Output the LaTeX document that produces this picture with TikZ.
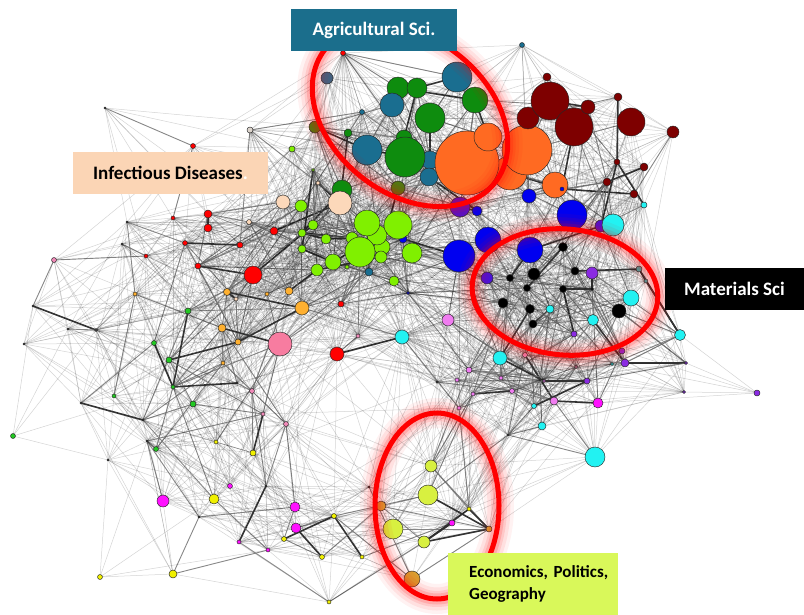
\documentclass[tikz,border=0pt]{standalone}
\usepackage{fontspec}
\setmainfont{Carlito}
\pgfdeclarelayer{edges}
\pgfsetlayers{edges,main}
\definecolor{cTeal}{HTML}{1A6E90}
\definecolor{cGreen}{HTML}{0E8C0E}
\definecolor{cOlive}{HTML}{4C7C12}
\definecolor{cOrange}{HTML}{FF6A22}
\definecolor{cDRed}{HTML}{7E0000}
\definecolor{cLGreen}{HTML}{80F000}
\definecolor{cPeach}{HTML}{FCD8BA}
\definecolor{cRed}{HTML}{FF0000}
\definecolor{cBlue}{HTML}{0000F0}
\definecolor{cPurBlue}{HTML}{4A12D6}
\definecolor{cCyan}{HTML}{22F2F2}
\definecolor{cBlack}{HTML}{000000}
\definecolor{cLOrange}{HTML}{FFB030}
\definecolor{cPink}{HTML}{F77CA0}
\definecolor{cViolet}{HTML}{F07CF0}
\definecolor{cMagenta}{HTML}{FF10FF}
\definecolor{cPurple}{HTML}{8A2BE2}
\definecolor{cYellow}{HTML}{F0F000}
\definecolor{cYG}{HTML}{D8F040}
\definecolor{cEcOr}{HTML}{DAA032}
\definecolor{cGTeal}{HTML}{4AA0A0}
\definecolor{cSlate}{HTML}{44607F}
\definecolor{cApx}{HTML}{555555}
\definecolor{cSGreen}{HTML}{22C822}
\definecolor{cPinkS}{HTML}{F08AB8}
\definecolor{cLGray}{HTML}{DCD4CC}
\definecolor{cAgBox}{HTML}{1B6E8C}
\definecolor{cInfBox}{HTML}{FBD5B5}
\definecolor{cEcoBox}{HTML}{D9F85A}
\newcount\dsq \newcount\hA \newcount\hB \newcount\jj
\newif\ifsamecol
\newcommand\pairtest[2]{%
 \dsq=\numexpr(\csname nx#1\endcsname-\csname nx#2\endcsname)*(\csname nx#1\endcsname-\csname nx#2\endcsname)+(\csname ny#1\endcsname-\csname ny#2\endcsname)*(\csname ny#1\endcsname-\csname ny#2\endcsname)\relax
 \ifnum\dsq<48400\relax
  \hA=\numexpr #1*7919+#2*104729+#1*#2*31\relax
  \hA=\numexpr\hA-(\hA/97)*97+48\relax
  \hB=\numexpr #1*3571+#2*6133+#1*#2*17\relax
  \hB=\numexpr\hB-(\hB/89)*89+44\relax
  \expandafter\ifx\csname nc#1\endcsname\csname nc#2\endcsname\samecoltrue\else\samecolfalse\fi
  \ifnum\hA<\numexpr72-\dsq/680\relax
   \draw[ledge] (n#1.center) -- (n#2.center);
  \fi
  \ifsamecol
   \ifnum\dsq<12100\relax
    \ifnum\hB<15\relax\draw[dedge] (n#1.center) -- (n#2.center);
    \else\ifnum\hB<34\relax\draw[medge] (n#1.center) -- (n#2.center);\fi\fi
   \fi
  \else
   \ifnum\dsq<6400\relax
    \ifnum\hB<5\relax\draw[dedge] (n#1.center) -- (n#2.center);
    \else\ifnum\hB<17\relax\draw[medge] (n#1.center) -- (n#2.center);\fi\fi
   \else\ifnum\dsq<14400\relax
    \ifnum\hB<8\relax\draw[medge] (n#1.center) -- (n#2.center);\fi
   \fi\fi
  \fi
 \fi}
\begin{document}
\begin{tikzpicture}[x=1pt,y=-1pt,
  nd/.style={circle,draw=black!85,line width=0.45pt,inner sep=0pt,outer sep=0pt},
  ledge/.style={draw=black,opacity=0.17,line width=0.5pt},
  medge/.style={draw=black!55,opacity=0.85,line width=0.9pt},
  dedge/.style={draw=black!80,line width=1.6pt},
  lab/.style={font=\fontsize{19}{22}\selectfont\bfseries\frenchspacing,inner sep=0pt},
  glow/.style={draw=red,line width=#1}]
\useasboundingbox (0,0) rectangle (804,615);
% nodes
\foreach \x/\y/\r/\c [count=\k] in {
343/53/2.5/cRed, 327/78/6/cSlate, 522/45/2.5/cTeal, 457/77/15/cTeal,
398/88/11/cGreen, 417/88/10/cGreen, 392/105/12/cTeal, 475/100/13/cGreen,
430/118/15/cGreen, 362/112/2.5/cTeal, 315/127/6/cOlive, 348/133/4/cGreen,
367/150/15/cTeal, 404/138/8/cGreen, 430/160/9/cTeal, 405/157/20/cGreen,
429/177/9/cTeal, 398/188/7/cOlive, 342/190/10/cGreen, 340/203/12/cPeach,
510/173/17/cOrange, 467/163/32/cOrange, 527/150/25/cOrange, 488/137/14/cOrange,
555/185/13/cOrange, 562/189/2/cBlue,
528/118/11/cDRed, 547/77/4/cDRed, 550/101/19/cDRed, 574/127/19/cDRed,
588/107/7/cDRed, 631/122/14/cDRed, 618/97/4/cDRed, 673/132/6/cDRed,
617/162/3/cDRed, 644/167/4/cDRed, 607/182/4/cDRed, 634/194/4/cDRed,
644/205/3/cCyan,
460/207/10/cPurBlue, 477/211/5/cBlue, 529/196/7/cBlue, 572/215/15/cBlue,
601/226/6/cPurBlue, 613/225/11/cCyan, 459/256/16/cBlue, 488/240/13/cBlue,
530/250/13/cBlue, 487/278/6/cPurBlue, 403/239/4/cBlue, 408/293/1.5/cBlue,
292/149/3/cLGreen, 313/170/1.5/cLGreen, 301/206/6/cLGreen, 313/225/5/cLGreen,
302/233/4/cLGreen, 326/239/5/cLGreen, 302/249/4/cLGreen, 333/262/8/cLGreen,
317/270/6/cLGreen, 347/267/2/cLGreen, 352/238/6/cLGreen, 394/281/5/cLGreen,
382/247/8/cLGreen, 381/257/6/cLGreen, 377/235/10/cLGreen, 367/223/13/cLGreen,
398/225/14/cLGreen, 360/252/15/cLGreen, 412/253/10/cLGreen, 369/272/4/cTeal,
283/202/7/cPeach, 249/222/2.5/cPeach, 318/183/2/cPeach, 236/299/2/cPeach,
250/130/3/cLGray,
193/146/2.5/cRed, 208/214/4/cRed, 208/228/4/cRed, 240/245/3/cRed,
173/218/2/cRed, 185/243/2.5/cRed, 146/256/2/cRed, 198/266/3/cRed,
274/231/4/cRed, 253/275/9/cRed, 337/354/7/cRed, 341/304/3/cRed,
135/294/2/cLOrange, 227/292/3.5/cLOrange, 267/294/2/cLOrange, 289/291/4/cLOrange,
302/308/7/cLOrange, 222/328/4/cLOrange, 238/342/3/cLOrange, 223/363/2/cLOrange,
280/344/12/cPink, 402/337/7/cCyan, 448/320/6/cViolet, 358/336/2/cPinkS,
188/311/3/cSGreen, 154/343/2.5/cSGreen, 169/360/3/cSGreen, 173/387/2/cSGreen,
114/396/2/cSGreen, 193/404/3/cSGreen, 13/436/2.5/cSGreen, 156/449/2.5/cSGreen,
54/260/2.5/cPinkS, 252/391/2.5/cPinkS, 263/414/2/cPinkS, 286/424/2.5/cPinkS,
216/442/2/cYellow, 253/453/3/cYellow,
105/108/1/cApx, 127/222/1/cApx, 122/244/1/cApx, 33/306/1/cApx,
68/329/1/cApx, 96/330/1.5/cApx, 24/344/1/cApx, 81/403/1/cApx,
147/441/1/cApx, 143/420/1/cApx, 108/460/1/cApx, 237/383/1/cApx,
199/517/1/cApx, 266/486/1/cApx, 369/487/1/cApx, 437/382/1/cApx,
508/435/1/cApx, 540/380/1/cApx,
563/247/4.5/cBlack, 534/274/6/cBlack, 510/278/3.5/cBlack, 575/271/4/cBlack,
527/288/3.5/cBlack, 563/289/3.5/cBlack, 592/289/1.5/cBlack, 503/303/5/cBlack,
530/309/4.5/cBlack, 533/324/4/cBlack, 619/311/7/cBlack,
592/273/6/cPurple, 639/269/3/cGTeal, 646/281/2/cGTeal, 631/298/8/cCyan,
550/309/4/cCyan, 593/320/5.5/cCyan, 574/334/3/cPurple, 680/335/5.5/cCyan,
500/358/7/cCyan, 622/351/3/cPurple, 625/363/4/cPurple, 686/363/1.5/cPurple,
757/393/3/cPurple, 684/392/1.5/cPurple, 525/355/2.5/cPinkS, 576/367/1.5/cPinkS,
469/370/3/cViolet, 457/380/2/cViolet, 501/378/2/cViolet, 473/394/2/cViolet,
512/391/2.5/cViolet, 544/381/1.5/cViolet, 459/408/2/cViolet, 554/401/4/cViolet,
598/403/5/cMagenta, 587/381/3/cPurple, 612/364/1.5/cCyan, 534/406/2.5/cCyan,
542/426/4/cCyan, 595/457/10/cCyan,
163/501/6/cMagenta, 214/499/5/cYellow, 230/486/2.5/cMagenta, 295/507/5/cMagenta,
296/528/5/cMagenta, 284/539/2.5/cYellow, 239/542/2/cMagenta, 268/550/2/cMagenta,
334/516/2.5/cYellow, 322/557/2.5/cYellow, 362/557/2/cYellow, 381/506/5/cEcOr,
431/466/6/cYG, 428/495/10/cYG, 393/529/10/cYG, 424/542/6/cYG,
412/579/8/cEcOr, 469/509/2/cYellow, 452/523/3/cMagenta, 489/529/3/cEcOr,
100/577/2.5/cYellow, 173/574/4/cYellow, 329/602/2/cYellow}{
  \pgfmathsetmacro\dd{2*\r}
  \node[nd,fill=\c,minimum size=\dd pt] (n\k) at (\x,\y) {};
  \expandafter\xdef\csname nx\k\endcsname{\x}
  \expandafter\xdef\csname ny\k\endcsname{\y}
  \expandafter\xdef\csname nc\k\endcsname{\c}
  \xdef\NN{\k}
}
% connectors
\begin{pgfonlayer}{edges}
\fill[white] (0,0) rectangle (804,615);
\foreach \i in {1,...,\NN}{%
  \jj=\i\relax
  \loop\ifnum\jj<\NN
    \advance\jj by 1\relax
    \edef\jx{\the\jj}%
    \pairtest{\i}{\jx}%
  \repeat
}
\end{pgfonlayer}
% highlighted groups
\foreach \w/\o in {30/0.05,23/0.07,16/0.1,11/0.15}{
  \draw[glow=\w pt,opacity=\o,rotate around={-38:(410,116)}] (410,116) ellipse (108 and 78);
  \draw[glow=\w pt,opacity=\o,rotate around={-5:(565,292)}] (565,292) ellipse (93 and 63);
  \draw[glow=\w pt,opacity=\o] (437,506) ellipse (62 and 93);
}
\draw[glow=5pt,rotate around={-38:(410,116)}] (410,116) ellipse (108 and 78);
\draw[glow=5pt,rotate around={-5:(565,292)}] (565,292) ellipse (93 and 63);
\draw[glow=5pt] (437,506) ellipse (62 and 93);
% labels
\node[lab,fill=cAgBox,text=white,minimum width=166pt,minimum height=42pt] (agri) at (374,30) {Agricultural Sci.};
\node[lab,fill=cInfBox,text=black,minimum width=195pt,minimum height=42pt] (infd) at (170.5,173) {Infectious Diseases\textcolor{white}{.}};
\node[lab,fill=black,text=white,minimum width=139pt,minimum height=42pt] (mats) at (734.5,289) {Materials Sci};
\node[lab,font=\fontsize{17}{22}\selectfont\bfseries\frenchspacing,fill=cEcoBox,text=black,anchor=north west,text width=170pt,minimum height=62pt,align=left] (econ) at (448,553) {\hspace*{21pt}\mbox{Economics, Politics,}\\\hspace*{21pt}\mbox{Geography}};
\end{tikzpicture}
\end{document}
